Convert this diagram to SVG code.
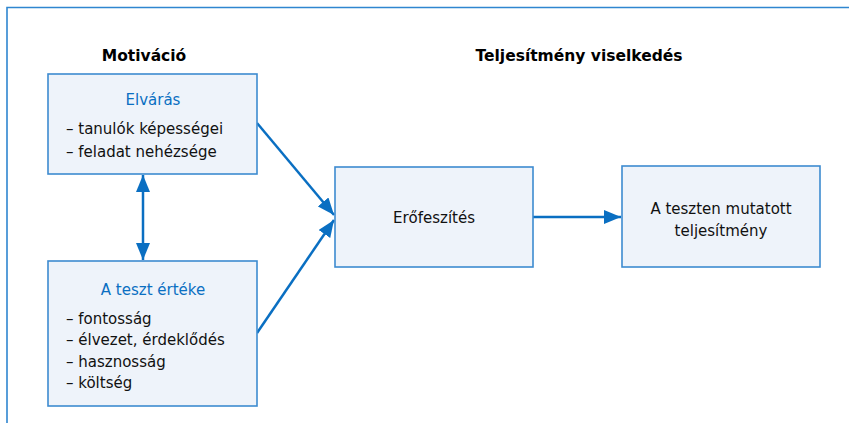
<svg xmlns="http://www.w3.org/2000/svg" width="849" height="423" viewBox="0 0 849 423">
<defs>
<marker id="ah" markerUnits="userSpaceOnUse" markerWidth="18" markerHeight="14" refX="17" refY="7" orient="auto-start-reverse">
<path d="M0,0 L17,7 L0,14 Z" fill="#0A6FC2"/>
</marker>
<style>
.frame{fill:none;stroke:#2F86D0;stroke-width:1.6}
.box{fill:#EEF3FA;stroke:#3D8BD0;stroke-width:1.6}
.hdr{font-family:"DejaVu Sans",sans-serif;font-size:15.5px;font-weight:bold;fill:#000;text-anchor:middle}
.ttl{font-family:"DejaVu Sans",sans-serif;font-size:15px;fill:#0A6FC2;text-anchor:middle}
.txt{font-family:"DejaVu Sans",sans-serif;font-size:15px;fill:#111}
.ctr{text-anchor:middle}
.con{fill:none;stroke:#0A6FC2;stroke-width:2.5}
</style>
</defs>
<rect width="849" height="423" fill="#fff"/>
<path class="frame" d="M7,423 V7.5 H849"/>
<text class="hdr" x="144" y="61">Motiváció</text>
<text class="hdr" x="579" y="61">Teljesítmény viselkedés</text>
<g id="connectors">
<line class="con" x1="257" y1="123" x2="334" y2="215" marker-end="url(#ah)"/>
<line class="con" x1="257" y1="333" x2="334" y2="220" marker-end="url(#ah)"/>
<line class="con" x1="533" y1="217" x2="621" y2="217" marker-end="url(#ah)"/>
<line class="con" x1="143" y1="175" x2="143" y2="260" marker-start="url(#ah)" marker-end="url(#ah)"/>
</g>
<g id="elvaras">
<rect class="box" x="48" y="74" width="209" height="100"/>
<text class="ttl" x="153" y="104.5">Elvárás</text>
<text class="txt" x="66" y="133.5">– tanulók képességei</text>
<text class="txt" x="66" y="156.5">– feladat nehézsége</text>
</g>
<g id="teszt-erteke">
<rect class="box" x="48" y="261" width="209" height="145"/>
<text class="ttl" x="153" y="294.5">A teszt értéke</text>
<text class="txt" x="66" y="323.5">– fontosság</text>
<text class="txt" x="66" y="344.5">– élvezet, érdeklődés</text>
<text class="txt" x="66" y="366.5">– hasznosság</text>
<text class="txt" x="66" y="387.5">– költség</text>
</g>
<g id="erofeszites">
<rect class="box" x="335" y="167" width="198" height="100"/>
<text class="txt ctr" x="434" y="223">Erőfeszítés</text>
</g>
<g id="teljesitmeny">
<rect class="box" x="622" y="166" width="198" height="101"/>
<text class="txt ctr" x="721" y="213.5">A teszten mutatott</text>
<text class="txt ctr" x="721" y="235.5">teljesítmény</text>
</g>
</svg>
